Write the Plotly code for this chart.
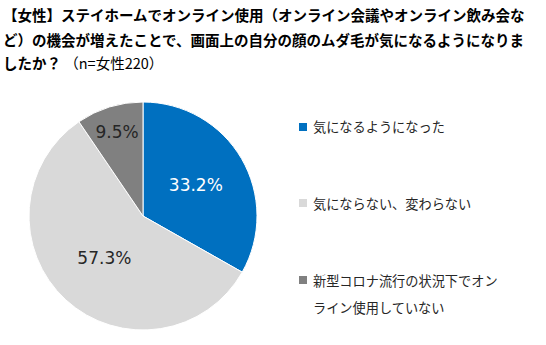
import plotly.graph_objects as go

labels = ["気になるようになった", "気にならない、変わらない", "新型コロナ流行の状況下でオンライン使用していない"]
legend_lines = [["気になるようになった"], ["気にならない、変わらない"], ["新型コロナ流行の状況下でオン", "ライン使用していない"]]
values = [33.2, 57.3, 9.5]
colors = ["#0070C0", "#D9D9D9", "#808080"]
text_colors = ["#FFFFFF", "#262626", "#262626"]
title_lines = [
    "<b>【女性】ステイホームでオンライン使用（オンライン会議やオンライン飲み会な</b>",
    "<b>ど）の機会が増えたことで、画面上の自分の顔のムダ毛が気になるようになりま</b>",
    "<b>したか？</b> （n=女性220）",
]

W, H = 546, 345
cx, cy, r = 143, 216, 114

fig = go.Figure()
fig.add_trace(go.Pie(
    labels=labels,
    values=values,
    sort=False,
    direction="clockwise",
    rotation=0,
    marker=dict(colors=colors, line=dict(color="white", width=1)),
    texttemplate="%{value:.1f}%",
    textposition="inside",
    insidetextorientation="horizontal",
    textfont=dict(family="DejaVu Sans", size=17, color=text_colors),
    domain=dict(x=[(cx - r) / W, (cx + r) / W], y=[(H - cy - r) / H, (H - cy + r) / H]),
    showlegend=False,
    hoverinfo="label+percent",
))

ann = []
ys = [2, 27, 50]
for line, y in zip(title_lines, ys):
    ann.append(dict(x=1 / W, y=1 - y / H, xref="paper", yref="paper", xanchor="left", yanchor="top",
                    text=line, showarrow=False, align="left",
                    font=dict(family="Noto Sans CJK JP", size=14.5, color="#000000")))

shapes = []
leg_y = [127, 203, 280]
for lines, y, c in zip(legend_lines, leg_y, colors):
    shapes.append(dict(type="rect", xref="paper", yref="paper",
                       x0=299 / W, x1=307 / W, y0=1 - (y - 4) / H, y1=1 - (y + 4) / H,
                       fillcolor=c, line=dict(width=0)))
    for i, t in enumerate(lines):
        ann.append(dict(x=311 / W, y=1 - (y + i * 27) / H, xref="paper", yref="paper",
                        xanchor="left", yanchor="middle", text=t, showarrow=False,
                        font=dict(family="Noto Sans CJK JP", size=13.2, color="#262626")))

fig.update_layout(
    width=W, height=H,
    margin=dict(l=0, r=0, t=0, b=0),
    paper_bgcolor="white",
    plot_bgcolor="white",
    annotations=ann,
    shapes=shapes,
)
fig.write_html("out.html")
